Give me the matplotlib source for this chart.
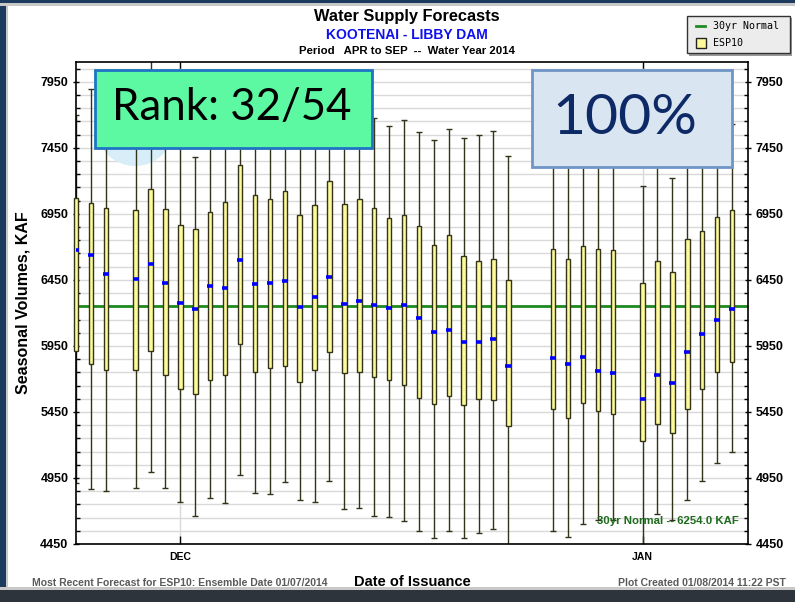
import matplotlib
matplotlib.use("Agg")
import matplotlib.pyplot as plt
import matplotlib.dates as mdates
from matplotlib.patches import Rectangle, Ellipse
from matplotlib.ticker import FixedLocator
import numpy as np

# ESP10 ensemble forecasts, one per issuance date (KAF)
issue_dates = [
    "2013-11-24", "2013-11-25", "2013-11-26", "2013-11-28", "2013-11-29", "2013-11-30",
    "2013-12-01", "2013-12-02", "2013-12-03", "2013-12-04", "2013-12-05", "2013-12-06",
    "2013-12-07", "2013-12-08", "2013-12-09", "2013-12-10", "2013-12-11", "2013-12-12",
    "2013-12-13", "2013-12-14", "2013-12-15", "2013-12-16", "2013-12-17", "2013-12-18",
    "2013-12-19", "2013-12-20", "2013-12-21", "2013-12-22", "2013-12-23",
    "2013-12-26", "2013-12-27", "2013-12-28", "2013-12-29", "2013-12-30",
    "2014-01-01", "2014-01-02", "2014-01-03", "2014-01-04", "2014-01-05", "2014-01-06",
    "2014-01-07",
]
whisker_low = [4910, 4863, 4848, 4871, 4992, 4871, 4765, 4659, 4795, 4757, 4969, 4833,
               4825, 4916, 4780, 4765, 4924, 4712, 4720, 4659, 4652, 4621, 4546, 4493,
               4546, 4493, 4531, 4561, 4400, 4548, 4501, 4599, 4631, 4631, 4400, 4677,
               4629, 4780, 4924, 5060, 5143]
box_low = [5908, 5815, 5770, 5770, 5913, 5732, 5626, 5588, 5694, 5732, 5966, 5755,
           5785, 5800, 5679, 5770, 5906, 5747, 5755, 5717, 5694, 5656, 5558, 5513,
           5573, 5505, 5551, 5543, 5347, 5470, 5407, 5520, 5460, 5437, 5233, 5362,
           5294, 5470, 5626, 5755, 5830]
median = [6676, 6639, 6495, 6457, 6571, 6427, 6276, 6231, 6404, 6389, 6601, 6419,
          6427, 6442, 6246, 6321, 6472, 6268, 6291, 6261, 6238, 6261, 6163, 6057,
          6072, 5981, 5981, 6004, 5800, 5860, 5815, 5868, 5762, 5747, 5551, 5732,
          5672, 5906, 6042, 6148, 6231]
box_high = [7069, 7031, 6994, 6979, 7137, 6986, 6865, 6835, 6963, 7039, 7318, 7092,
            7062, 7122, 6941, 7016, 7198, 7024, 7062, 6994, 6918, 6941, 6858, 6714,
            6790, 6631, 6593, 6608, 6450, 6684, 6608, 6707, 6684, 6676, 6427, 6593,
            6510, 6759, 6820, 6926, 6979]
whisker_high = [7700, 7895, 7750, 7800, 8200, 7700, 7600, 7379, 7650, 7700, 7800, 7700,
                7650, 7750, 7600, 7700, 7850, 7650, 7700, 7674, 7613, 7658, 7568, 7507,
                7590, 7522, 7545, 7575, 7386, 7500, 7450, 7500, 7450, 7450, 7160, 7400,
                7220, 7450, 7500, 7550, 7628]
normal_30yr = 6254.0

y_labels = [4450, 4950, 5450, 5950, 6450, 6950, 7450, 7950]
month_ticks = ["2013-12-01", "2014-01-01"]
month_labels = ["DEC", "JAN"]

W, H = 795, 602


def fx(x):
    return x / W


def fy(y):
    return 1 - y / H


fig = plt.figure(figsize=(W / 100, H / 100), dpi=100)
fig.patch.set_facecolor("white")

# window frame
navy = "#1b3a5e"
for x0, y0, w, h, c in [(0, 0, 6, H, navy), (6, 0, 2, H, "#c8c8c8"),
                        (0, 0, W, 3, navy), (0, 3, W, 3, "#c8c8c8"),
                        (0, 587, W, 3, "#c8c8c8"), (0, 590, W, 12, "#2e343c")]:
    fig.add_artist(Rectangle((fx(x0), fy(y0 + h)), w / W, h / H, transform=fig.transFigure,
                             facecolor=c, edgecolor="none", zorder=0))

ax = fig.add_axes([fx(76), fy(544), (748 - 76) / W, (544 - 62) / H])
dates = mdates.datestr2num(issue_dates)

ax.set_ylim(4450, 8100)
ax.set_xlim(mdates.datestr2num("2013-11-24"), mdates.datestr2num("2014-01-08") + 0.07)

# grid
ax.yaxis.set_major_locator(FixedLocator(y_labels))
ax.yaxis.set_minor_locator(FixedLocator(np.arange(4450, 8101, 100)))
ax.xaxis.set_major_locator(FixedLocator(mdates.datestr2num(month_ticks)))
ax.set_xticklabels(month_labels)
ax.set_axisbelow(True)
ax.grid(True, axis="y", which="both", color="#d9d9d9", lw=1)
ax.grid(True, axis="x", which="major", color="#d9d9d9", lw=1)

ax.add_patch(Ellipse((fx(135), fy(127)), 78 / W, 78 / H, transform=fig.transFigure,
                     facecolor="#d7eef8", edgecolor="none", zorder=1.5))

ax.axhline(normal_30yr, color="#1f8a1f", lw=2, zorder=2)

wl = np.array(whisker_low)
bl = np.array(box_low)
bh = np.array(box_high)
wh = np.array(whisker_high)
edge = "#33331a"
ax.vlines(dates, wl, bl, color=edge, lw=1, zorder=2.5)
ax.vlines(dates, bh, wh, color=edge, lw=1, zorder=2.5)
ax.plot(dates, wl, ls="none", marker="_", ms=4, mew=1, color=edge, zorder=2.5)
ax.plot(dates, wh, ls="none", marker="_", ms=4, mew=1, color=edge, zorder=2.5)
bars = ax.bar(dates, bh - bl, bottom=bl, width=0.3, color="#fdfa9a", edgecolor=edge,
              lw=1, zorder=3)
for b in bars:
    b.set_clip_on(False)
ax.plot(dates, median, ls="none", marker="_", ms=4.5, mew=2.6, color="#0000ff", zorder=4)

ax.text(mdates.datestr2num("2014-01-07") + 0.45, 4625, "30yr Normal -- 6254.0 KAF",
        ha="right", va="center", fontsize=8.2, fontweight="bold", color="#1d6b1d",
        family="Liberation Sans", zorder=5)

for s in ax.spines.values():
    s.set_linewidth(1.2)
    s.set_color("black")
ax.tick_params(axis="y", which="major", direction="inout", length=5, width=1,
               left=True, right=True, labelleft=True, labelright=True, pad=3,
               labelsize=9)
ax.tick_params(axis="y", which="minor", direction="in", length=3, width=1,
               left=True, right=True)
ax.tick_params(axis="x", which="major", direction="in", length=6, width=1,
               top=True, bottom=True, pad=6, labelsize=7.5)
for lab in ax.get_yticklabels() + ax.get_xticklabels():
    lab.set_fontweight("bold")
    lab.set_family("Liberation Sans")
ax.set_ylabel("Seasonal Volumes, KAF", fontsize=11.5, fontweight="bold",
              family="Liberation Sans", labelpad=7)
ax.set_xlabel("Date of Issuance", fontsize=10.5, fontweight="bold",
              family="Liberation Sans", labelpad=9)

# titles
fig.text(fx(407), fy(17), "Water Supply Forecasts", ha="center", va="center",
         fontsize=11.8, fontweight="bold", family="Liberation Sans")
fig.text(fx(407), fy(35), "KOOTENAI - LIBBY DAM", ha="center", va="center",
         fontsize=10, fontweight="bold", color="#1010ee", family="Liberation Sans")
fig.text(fx(407), fy(51), "Period   APR to SEP  --  Water Year 2014", ha="center",
         va="center", fontsize=8.2, fontweight="bold", family="Liberation Sans")

# footer
fig.text(fx(32), fy(583), "Most Recent Forecast for ESP10: Ensemble Date 01/07/2014",
         ha="left", va="center", fontsize=7.5, fontweight="bold", color="#5a5a5a",
         family="Liberation Sans")
fig.text(fx(786), fy(583), "Plot Created 01/08/2014 11:22 PST",
         ha="right", va="center", fontsize=7.5, fontweight="bold", color="#5a5a5a",
         family="Liberation Sans")

# legend
fig.add_artist(Rectangle((fx(689), fy(55.5)), 103 / W, 37 / H, transform=fig.transFigure,
                         facecolor="#9a9a9a", edgecolor="none", zorder=5))
fig.add_artist(Rectangle((fx(686.5), fy(52.7)), 103 / W, 37 / H, transform=fig.transFigure,
                         facecolor="#ececec", edgecolor="#333333", lw=1, zorder=6))
fig.add_artist(plt.Line2D([fx(695.5), fx(705)], [fy(25.7), fy(25.7)],
                          transform=fig.transFigure, color="#1f8a1f", lw=2, zorder=7))
fig.add_artist(Rectangle((fx(696), fy(47.5)), 9.5 / W, 9.5 / H, transform=fig.transFigure,
                         facecolor="#fdfa9a", edgecolor="#222222", lw=1, zorder=7))
fig.text(fx(713), fy(26), "30yr Normal", ha="left", va="center", fontsize=7.2,
         family="DejaVu Sans Mono", zorder=7)
fig.text(fx(713), fy(43), "ESP10", ha="left", va="center", fontsize=7.2,
         family="DejaVu Sans Mono", zorder=7)

# callout boxes
fig.add_artist(Rectangle((fx(95), fy(148)), 277 / W, 78 / H, transform=fig.transFigure,
                         facecolor="#5cf9a2", edgecolor="#1f74c4", lw=2, zorder=8))
fig.text(fx(232), fy(107), "Rank: 32/54", ha="center", va="center", fontsize=31.5,
         family="Lato", color="black", zorder=9)
fig.add_artist(Rectangle((fx(532), fy(167)), 200 / W, 97 / H, transform=fig.transFigure,
                         facecolor="#dae5f2", edgecolor="#6f95c6", lw=2, zorder=8))
fig.text(fx(625), fy(119), "100%", ha="center", va="center", fontsize=41,
         family="Lato", color="#0e2a66", zorder=9)

fig.savefig("out.png", dpi=100)
